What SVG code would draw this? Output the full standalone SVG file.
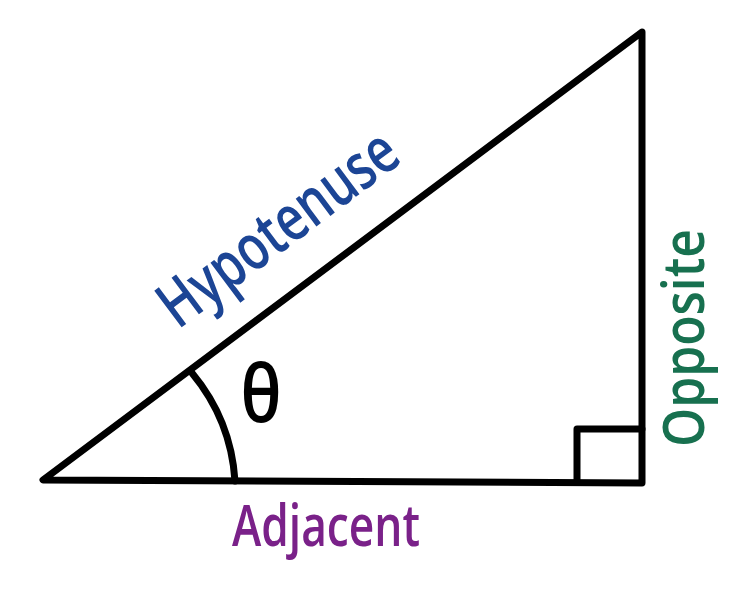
<svg xmlns="http://www.w3.org/2000/svg" width="748" height="594" viewBox="0 0 748 594">
<style>
.ln{fill:none;stroke:#000;stroke-width:7;stroke-linecap:round;stroke-linejoin:round}
.lbl{font-family:"Open Sans","Liberation Sans",sans-serif;font-weight:600}
</style>
<rect width="748" height="594" fill="#fff"/>
<g id="triangle">
<path class="ln" d="M43,480 L642,483 L642,32 Z"/>
<path class="ln" d="M577,482 L577,429 L642,429"/>
<path class="ln" d="M192,373 A188,188 0 0 1 235,481"/>
</g>
<g id="theta"><text class="lbl" transform="translate(261,422) scale(0.85,1)" font-size="80" font-weight="500" text-anchor="middle" fill="#000">θ</text></g>
<g id="hypotenuse"><text class="lbl" transform="translate(178,330) rotate(-36.8)" font-size="64" fill="#1c4595" textLength="282" lengthAdjust="spacingAndGlyphs">Hypotenuse</text></g>
<g id="opposite"><text class="lbl" transform="translate(704,447) rotate(-90)" font-size="58" fill="#17704f" textLength="218" lengthAdjust="spacingAndGlyphs">Opposite</text></g>
<g id="adjacent"><text class="lbl" x="232" y="546" font-size="58" fill="#7a2189" textLength="188" lengthAdjust="spacingAndGlyphs">Adjacent</text></g>
</svg>
